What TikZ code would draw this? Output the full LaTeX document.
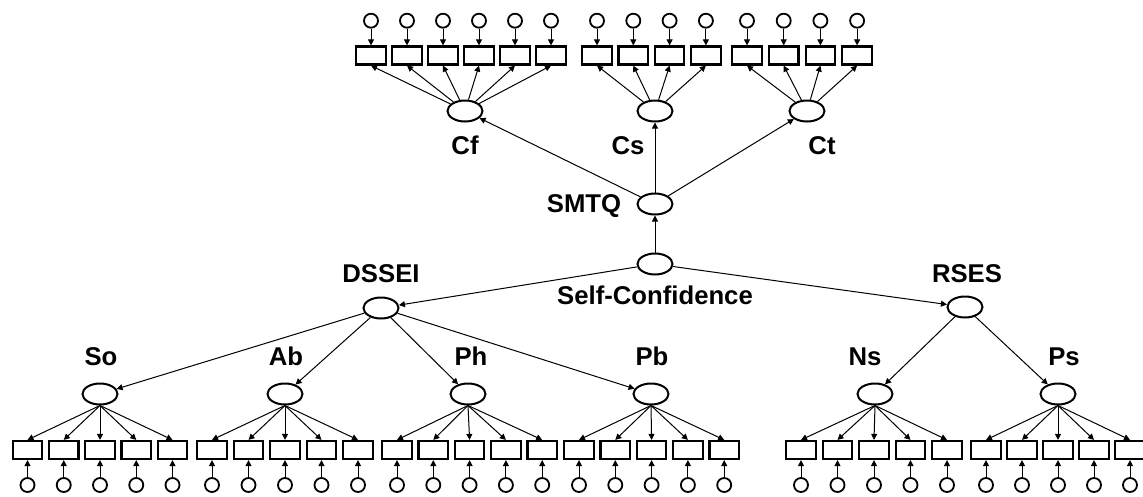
\documentclass[tikz,border=0pt]{standalone}
\usepackage{fontspec}
\setmainfont{Liberation Sans}
\usetikzlibrary{shapes.geometric,arrows.meta}

\begin{document}
\begin{tikzpicture}[
    x=1pt, y=-1pt,
    lat/.style={draw, ellipse, line width=2pt, minimum width=35pt, minimum height=21pt, inner sep=0pt},
    ind/.style={draw, rectangle, line width=2.2pt, minimum width=29.5pt, minimum height=18pt, inner sep=0pt},
    err/.style={draw, circle, line width=1.8pt, minimum size=14pt, inner sep=0pt},
    lbl/.style={font=\fontsize{25.7}{30}\selectfont\bfseries, inner sep=0pt, anchor=base},
    arr/.style={-{Triangle[length=6pt,width=6pt]}, line width=1pt}
]
    \useasboundingbox (0,0) rectangle (1143,496);

    % latent variables
    \node [lat] (SC) at (655,264) {};
    \node [lat] (SMTQ) at (655,204) {};
    \node [lat] (Cf) at (465,111) {};
    \node [lat] (Cs) at (655,111) {};
    \node [lat] (Ct) at (807,111) {};
    \node [lat] (DSSEI) at (381,308) {};
    \node [lat] (RSES) at (965,307) {};
    \node [lat] (So) at (100,394) {};
    \node [lat] (Ab) at (285,394) {};
    \node [lat] (Ph) at (468,394) {};
    \node [lat] (Pb) at (651,394) {};
    \node [lat] (Ns) at (875,394) {};
    \node [lat] (Ps) at (1058,394) {};

    % labels
    \node [lbl] (SC-l) at (655,304) {Self-Confidence};
    \node [lbl] (SMTQ-l) at (584,212) {SMTQ};
    \node [lbl] (Cf-l) at (465,154) {Cf};
    \node [lbl] (Cs-l) at (628,154) {Cs};
    \node [lbl] (Ct-l) at (822,154) {Ct};
    \node [lbl] (DSSEI-l) at (381,282) {DSSEI};
    \node [lbl] (RSES-l) at (967,282) {RSES};
    \node [lbl] (So-l) at (101,365) {So};
    \node [lbl] (Ab-l) at (286,365) {Ab};
    \node [lbl] (Ph-l) at (471,365) {Ph};
    \node [lbl] (Pb-l) at (652,365) {Pb};
    \node [lbl] (Ns-l) at (865,365) {Ns};
    \node [lbl] (Ps-l) at (1064,365) {Ps};

    % structural paths
    \draw [arr] (SC) -- (SMTQ);
    \draw [arr] (SC) -- (DSSEI);
    \draw [arr] (SC) -- (RSES);
    \draw [arr] (SMTQ) -- (Cf);
    \draw [arr] (SMTQ) -- (Cs);
    \draw [arr] (SMTQ) -- (Ct);
    \foreach \f in {So,Ab,Ph,Pb}
        \draw [arr] (DSSEI) -- (\f);
    \foreach \f in {Ns,Ps}
        \draw [arr] (RSES) -- (\f);

    % indicators on top
    \foreach \lv/\x/\n/\dx in {Cf/371/6/36.0, Cs/597/4/36.3, Ct/747/4/36.7} {
        \foreach \i in {1,...,\n} {
            \node [ind] (\lv-b\i) at ({\x+(\i-1)*\dx},55.5) {};
            \node [err] (\lv-e\i) at ({\x+(\i-1)*\dx},20.7) {};
            \draw [arr] (\lv-e\i) -- (\lv-b\i);
            \draw [arr] (\lv) -- (\lv-b\i.south);
        }
    }

    % indicators at the bottom
    \foreach \lv/\x/\dx in {So/27.5/36.25, Ab/212/36.5, Ph/397/36.3, Pb/579/36.3, Ns/801/36.5, Ps/986/36.0} {
        \foreach \i in {1,...,5} {
            \node [ind] (\lv-b\i) at ({\x+(\i-1)*\dx},450) {};
            \node [err] (\lv-e\i) at ({\x+(\i-1)*\dx},485) {};
            \draw [arr] (\lv-e\i) -- (\lv-b\i);
            \draw [arr] (\lv.south) -- (\lv-b\i.north);
        }
    }
\end{tikzpicture}
\end{document}
